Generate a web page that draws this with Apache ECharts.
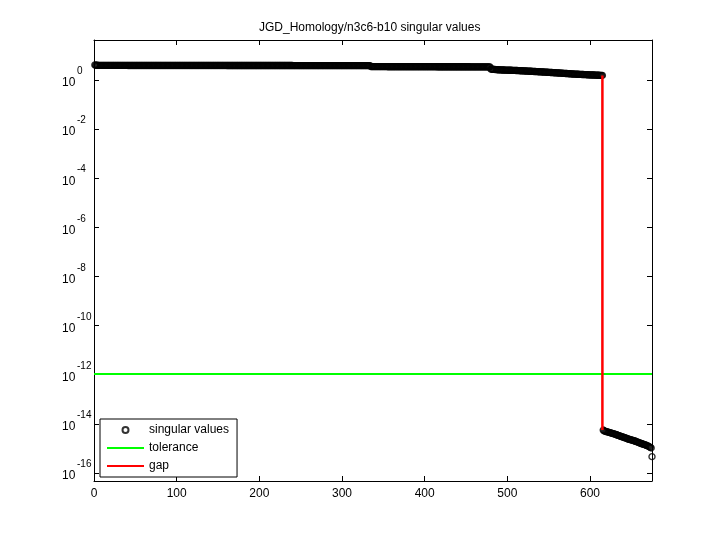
<!DOCTYPE html>
<html>
<head>
<meta charset="utf-8">
<script src="https://cdn.jsdelivr.net/npm/echarts@6/dist/echarts.min.js"></script>
<style>
html,body{margin:0;padding:0;background:#fff;}
#chart{width:720px;height:540px;}
</style>
</head>
<body>
<div id="chart"></div>
<script>
// ---- data ----
const titleText = 'JGD_Homology/n3c6-b10 singular values';
const seriesNames = ['singular values', 'tolerance', 'gap'];

// singular values, index 1..615 (large part)
const largeValues = [
4.12,3.98,3.97,3.97,3.96,3.96,3.96,3.95,3.95,3.95,3.95,3.94,3.94,3.94,3.94,3.94,3.93,3.93,3.93,3.93,
3.93,3.93,3.93,3.93,3.93,3.93,3.93,3.93,3.93,3.93,3.93,3.93,3.93,3.93,3.93,3.93,3.93,3.93,3.93,3.93,
3.92,3.92,3.92,3.92,3.92,3.92,3.92,3.92,3.92,3.92,3.92,3.92,3.92,3.92,3.92,3.92,3.92,3.92,3.92,3.92,
3.92,3.92,3.92,3.92,3.92,3.92,3.92,3.92,3.92,3.92,3.92,3.92,3.92,3.92,3.92,3.92,3.92,3.92,3.92,3.92,
3.91,3.91,3.91,3.91,3.91,3.91,3.91,3.91,3.91,3.91,3.91,3.91,3.91,3.91,3.91,3.91,3.91,3.91,3.91,3.91,
3.91,3.91,3.91,3.91,3.91,3.91,3.91,3.91,3.91,3.91,3.91,3.91,3.91,3.91,3.91,3.91,3.91,3.91,3.91,3.91,
3.90,3.90,3.90,3.90,3.90,3.90,3.90,3.90,3.90,3.90,3.90,3.90,3.90,3.90,3.90,3.90,3.90,3.90,3.90,3.90,
3.90,3.90,3.90,3.90,3.90,3.90,3.90,3.90,3.90,3.90,3.90,3.90,3.90,3.90,3.90,3.90,3.90,3.90,3.90,3.90,
3.89,3.89,3.89,3.89,3.89,3.89,3.89,3.89,3.89,3.89,3.89,3.89,3.89,3.89,3.89,3.89,3.89,3.89,3.89,3.89,
3.89,3.89,3.89,3.89,3.89,3.89,3.89,3.89,3.89,3.89,3.89,3.89,3.89,3.89,3.89,3.89,3.89,3.89,3.89,3.89,
3.88,3.88,3.88,3.88,3.88,3.88,3.88,3.88,3.88,3.88,3.88,3.88,3.88,3.88,3.88,3.88,3.88,3.88,3.88,3.88,
3.88,3.88,3.88,3.88,3.88,3.88,3.88,3.88,3.88,3.88,3.88,3.88,3.88,3.88,3.88,3.88,3.88,3.88,3.88,3.88,
3.87,3.87,3.87,3.87,3.87,3.87,3.87,3.87,3.87,3.87,3.87,3.87,3.87,3.87,3.87,3.87,3.87,3.87,3.87,3.87,
3.87,3.87,3.87,3.87,3.87,3.87,3.87,3.87,3.87,3.87,3.87,3.87,3.87,3.87,3.87,3.87,3.87,3.87,3.87,3.87,
3.86,3.86,3.86,3.86,3.86,3.86,3.86,3.86,3.86,3.86,3.86,3.86,3.86,3.86,3.86,3.86,3.86,3.86,3.86,3.86,
3.86,3.86,3.86,3.86,3.86,3.86,3.86,3.86,3.86,3.86,3.86,3.86,3.86,3.86,3.86,3.86,3.86,3.86,3.86,3.86,
3.85,3.85,3.85,3.85,3.85,3.85,3.85,3.85,3.85,3.85,3.85,3.85,3.85,3.85,
3.50,3.50,3.50,3.50,3.50,3.50,3.50,3.50,3.50,3.50,3.50,3.50,3.50,3.50,3.50,3.50,3.50,3.50,3.50,3.50,
3.49,3.49,3.49,3.49,3.49,3.49,3.49,3.49,3.49,3.49,3.49,3.49,3.49,3.49,3.49,3.49,3.49,3.49,3.49,3.49,
3.48,3.48,3.48,3.48,3.48,3.48,3.48,3.48,3.48,3.48,3.48,3.48,3.48,3.48,3.48,3.48,3.48,3.48,3.48,3.48,
3.47,3.47,3.47,3.47,3.47,3.47,3.47,3.47,3.47,3.47,3.47,3.47,3.47,3.47,3.47,3.47,3.47,3.47,3.47,3.47,
3.46,3.46,3.46,3.46,3.46,3.46,3.46,3.46,3.46,3.46,3.46,3.46,3.46,3.46,3.46,3.46,3.46,3.46,3.46,3.46,
3.45,3.45,3.45,3.45,3.45,3.45,3.45,3.45,3.45,3.45,3.45,3.45,3.45,3.45,3.45,3.45,3.45,3.45,3.45,3.45,
3.44,3.44,3.44,3.44,3.44,3.44,3.44,3.44,3.44,3.44,3.44,3.44,3.44,3.44,3.44,3.44,3.44,3.44,3.44,3.44,
3.43,3.43,3.43,3.43,3.43,
2.78,2.76,2.74,2.72,2.70,2.68,2.66,2.64,2.62,2.61,
2.60,2.59,2.58,2.57,2.56,2.55,2.54,2.53,2.52,2.52,2.51,2.51,2.50,2.50,2.49,2.49,2.48,2.48,
2.47,2.46,2.45,2.44,2.43,2.42,2.41,2.40,2.39,2.38,2.37,2.36,2.35,2.34,2.33,2.32,2.31,2.30,2.29,2.28,
2.27,2.26,2.25,2.24,2.23,2.22,2.21,2.20,2.19,2.18,2.17,2.16,2.15,2.14,2.13,2.12,2.11,2.10,2.09,2.08,
2.07,2.06,2.05,2.04,2.03,2.02,2.01,2.00,1.99,1.98,1.97,1.96,1.95,1.94,1.93,1.92,1.91,1.90,1.89,1.88,
1.87,1.86,1.85,1.84,1.83,1.82,1.81,1.80,1.79,1.78,1.77,1.76,1.75,
1.74,1.73,1.73,1.72,1.71,1.71,1.70,1.69,1.69,1.68,1.67,1.67,1.66,1.65,1.65,1.64,1.63,1.63,1.62,1.61,
1.61,1.60,1.60,1.59,1.59,1.58,1.58,1.57,
1.57,1.56,1.56,1.55,1.55,1.54,1.53
];

// singular values, index 616..675 (numerically zero part)
const smallValues = [
5.6e-15,5.2e-15,5.0e-15,4.9e-15,4.8e-15,4.7e-15,
4.6e-15,4.5e-15,4.4e-15,4.3e-15,4.2e-15,4.1e-15,4.0e-15,3.9e-15,3.8e-15,3.7e-15,3.6e-15,3.5e-15,
3.4e-15,3.3e-15,3.2e-15,3.1e-15,3.0e-15,2.95e-15,2.9e-15,2.8e-15,2.7e-15,2.65e-15,2.6e-15,2.5e-15,2.4e-15,
2.35e-15,2.3e-15,2.25e-15,2.2e-15,2.15e-15,2.1e-15,2.05e-15,2.0e-15,1.95e-15,1.9e-15,1.85e-15,1.8e-15,1.72e-15,1.66e-15,
1.62e-15,1.58e-15,1.54e-15,1.5e-15,1.46e-15,1.42e-15,1.38e-15,1.34e-15,1.3e-15,1.26e-15,
1.2e-15,1.15e-15,1.1e-15,1.04e-15,
4.6e-16
];

const tolerance = 1.07e-12;
const xRange = [0, 675];
const yRange = [4.7e-17, 42.6];
const xTickValues = [0, 100, 200, 300, 400, 500, 600];
const yTickExponents = [-16, -14, -12, -10, -8, -6, -4, -2, 0];

// ---- build series data ----
const allValues = largeValues.concat(smallValues);
const svData = allValues.map((v, i) => [i + 1, v]);
const rank = largeValues.length;
const gapData = [[rank, largeValues[rank - 1]], [rank, smallValues[0]]];
const tolData = [[xRange[0], tolerance], [xRange[1], tolerance]];
const yTickValues = yTickExponents.map(e => Math.pow(10, e));

const FONT = 'Liberation Sans, Arial, Helvetica, sans-serif';
const tickStyle = { inside: true, length: 5, lineStyle: { color: '#000', width: 1 } };
const lineStyleAxis = { show: true, onZero: false, lineStyle: { color: '#000', width: 1 } };

const chart = echarts.init(document.getElementById('chart'), null, { renderer: 'canvas' });
chart.setOption({
  animation: false,
  backgroundColor: '#fff',
  title: {
    text: titleText,
    left: 259, top: 22, padding: 0,
    textStyle: { fontFamily: FONT, fontSize: 12, fontWeight: 'normal', color: '#000' }
  },
  grid: { left: 94, right: 68, top: 40, bottom: 59, containLabel: false },
  legend: {
    orient: 'vertical',
    left: 100, top: 419,
    padding: [5, 8, 5, 6],
    itemGap: 6,
    itemWidth: 37, itemHeight: 6,
    borderColor: '#000', borderWidth: 1, borderRadius: 0,
    backgroundColor: '#fff',
    textStyle: { fontFamily: FONT, fontSize: 12, color: '#000' },
    data: [
      { name: seriesNames[0], icon: 'emptyCircle', itemStyle: { color: '#000' } },
      { name: seriesNames[1], itemStyle: { opacity: 0 } },
      { name: seriesNames[2], itemStyle: { opacity: 0 } }
    ]
  },
  xAxis: [
    {
      type: 'value', position: 'bottom', min: xRange[0], max: xRange[1],
      axisLine: lineStyleAxis,
      axisTick: Object.assign({ customValues: xTickValues }, tickStyle),
      axisLabel: { customValues: xTickValues, margin: 7, fontFamily: FONT, fontSize: 12, color: '#000' },
      splitLine: { show: false }
    },
    {
      type: 'value', position: 'top', min: xRange[0], max: xRange[1],
      axisLine: lineStyleAxis,
      axisTick: Object.assign({ customValues: xTickValues }, tickStyle),
      axisLabel: { show: false },
      splitLine: { show: false }
    }
  ],
  yAxis: [
    {
      type: 'log', logBase: 10, position: 'left', min: yRange[0], max: yRange[1],
      axisLine: lineStyleAxis,
      axisTick: Object.assign({ customValues: yTickValues }, tickStyle),
      minorTick: { show: false },
      axisLabel: {
        customValues: yTickValues,
        align: 'left', margin: 32,
        padding: [0, 0, 5, 0],
        formatter: function (v) {
          const e = Math.round(Math.log10(v));
          return '{x|' + e + '}\n{b|10}';
        },
        rich: {
          b: { fontFamily: FONT, fontSize: 12, color: '#000', lineHeight: 12 },
          x: { fontFamily: FONT, fontSize: 10, color: '#000', lineHeight: 11, padding: [0, 0, 0, 15] }
        }
      },
      splitLine: { show: false }
    },
    {
      type: 'log', logBase: 10, position: 'right', min: yRange[0], max: yRange[1],
      axisLine: lineStyleAxis,
      axisTick: Object.assign({ customValues: yTickValues }, tickStyle),
      minorTick: { show: false },
      axisLabel: { show: false },
      splitLine: { show: false }
    }
  ],
  series: [
    {
      name: seriesNames[0], type: 'scatter', xAxisIndex: 0, yAxisIndex: 0,
      symbol: 'circle', symbolSize: 6,
      itemStyle: { color: 'rgba(0,0,0,0)', borderColor: '#000', borderWidth: 1.4 },
      data: svData
    },
    {
      name: seriesNames[1], type: 'line', xAxisIndex: 0, yAxisIndex: 0,
      symbol: 'none', showSymbol: false,
      lineStyle: { color: '#00ff00', width: 2 },
      itemStyle: { color: '#00ff00' },
      data: tolData
    },
    {
      name: seriesNames[2], type: 'line', xAxisIndex: 0, yAxisIndex: 0,
      symbol: 'none', showSymbol: false,
      lineStyle: { color: '#ff0000', width: 2.5 },
      itemStyle: { color: '#ff0000' },
      data: gapData
    }
  ]
});
</script>
</body>
</html>
